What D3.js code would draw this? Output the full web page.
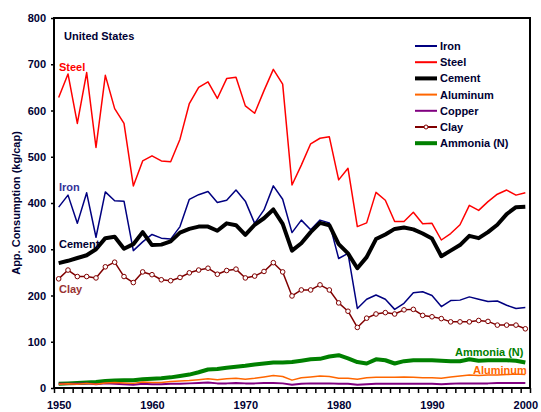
<!DOCTYPE html>
<html><head><meta charset="utf-8">
<script src="https://cdn.jsdelivr.net/npm/d3@7/dist/d3.min.js"></script>
<style>
body{margin:0;background:#fff;}
text{font-family:"Liberation Sans",Arial,sans-serif;font-weight:bold;}
</style></head>
<body>
<svg id="c" width="541" height="412"></svg>
<script>
const years = d3.range(1950, 2001);
const iron = [391,417,356,422,326,424,405,404,297,316,332,324,322,349,408,418,425,401,406,428,404,356,385,437,408,336,363,342,363,357,280,291,172,192,201,192,170,183,206,208,200,176,189,190,197,192,187,188,179,172,174];
const steel = [628,679,572,682,520,676,604,572,437,491,502,491,489,538,615,650,662,626,669,672,610,594,643,689,657,439,482,528,540,543,450,475,349,357,423,406,360,360,380,355,356,320,334,353,395,384,403,419,428,417,422];
const cement = [270,275,281,287,300,324,327,301,311,337,309,310,317,336,344,349,349,340,356,352,331,353,367,386,355,297,313,337,357,352,311,291,259,283,322,332,344,347,343,334,323,285,297,309,329,324,337,353,376,391,392];
const aluminum = [8,9,8,10,8,11,12,11,10,13,12,12,14,15,16,18,20,18,20,21,19,21,24,27,25,17,22,24,26,25,21,21,19,22,23,23,23,24,23,22,22,21,24,26,28,27,28,28,29,30,29];
const copper = [9,9,9,10,8,10,9,8,7,9,8,8,9,9,10,11,12,10,10,11,10,10,11,11,10,7,9,10,10,10,9,9,7,8,9,9,9,9,9,9,9,8,9,10,10,10,10,11,11,11,11];
const clay = [236,255,241,241,238,262,272,241,228,251,245,234,232,239,249,255,259,246,254,257,238,242,252,271,251,199,212,212,223,212,184,166,131,151,160,163,160,169,170,157,154,150,143,143,143,146,144,136,136,136,128];
const ammonia = [9,10,11,12,13,15,16,16.5,17,19,20,21,23,26,29,34,40,41,44,46,48,51,53,55,55,56,59,62,63,68,71,64,56,53,62,60,53,58,60,60,60,59,58,58,62,59,60,60,60,59,55];
const yTicks = [0,100,200,300,400,500,600,700,800];
const xLabels = [1950,1960,1970,1980,1990,2000];

const series = [
  {name:"Iron", values:iron, color:"#000080", width:1.5},
  {name:"Steel", values:steel, color:"#FF0000", width:1.5},
  {name:"Cement", values:cement, color:"#000000", width:4},
  {name:"Aluminum", values:aluminum, color:"#FF6600", width:1.5},
  {name:"Copper", values:copper, color:"#800080", width:2},
  {name:"Clay", values:clay, color:"#800000", width:1.5, marker:true},
  {name:"Ammonia (N)", values:ammonia, color:"#008000", width:4}
];

const L=54,R=530,T=18,B=388;
const svg = d3.select("#c");
const x = d3.scaleLinear().domain([1949.5,2000.5]).range([L,R]);
const y = d3.scaleLinear().domain([0,800]).range([B,T]);

// y axis
const yAx = svg.append("g").attr("transform",`translate(${L},0)`)
  .call(d3.axisLeft(y).tickValues(yTicks).tickSize(3).tickPadding(5));
yAx.select(".domain").remove();
yAx.selectAll("text").attr("font-size",11).attr("fill","#000033").style("font-family","Liberation Sans, Arial").style("font-weight","bold");
yAx.selectAll("line").attr("stroke","#000").attr("stroke-width",1.5);

// x ticks (year boundaries)
const xt = svg.append("g").attr("transform",`translate(0,${B})`)
  .call(d3.axisBottom(x).tickValues(d3.range(1949.5,2001,1)).tickSize(5).tickFormat(""));
xt.select(".domain").remove();
xt.selectAll("line").attr("stroke","#000").attr("stroke-width",1.5);
const xl = svg.append("g").attr("transform",`translate(0,${B})`)
  .call(d3.axisBottom(x).tickValues(xLabels).tickSize(0).tickPadding(13).tickFormat(d3.format("d")));
xl.select(".domain").remove();
xl.selectAll("text").attr("font-size",11).attr("fill","#000033").style("font-family","Liberation Sans, Arial").style("font-weight","bold");

// frame
svg.append("rect").attr("x",L).attr("y",T).attr("width",R-L).attr("height",B-T)
  .attr("fill","none").attr("stroke","#000").attr("stroke-width",2);

const line = d3.line().x((d,i)=>x(years[i])).y(d=>y(d));
const order = ["Ammonia (N)","Copper","Aluminum","Clay","Iron","Steel","Cement"];
order.forEach(n=>{
  const s = series.find(z=>z.name===n);
  svg.append("path").attr("d",line(s.values)).attr("fill","none")
    .attr("stroke",s.color).attr("stroke-width",s.width).attr("stroke-linejoin","round");
  if(s.marker){
    svg.selectAll(null).data(s.values).enter().append("circle")
      .attr("cx",(d,i)=>x(years[i])).attr("cy",d=>y(d)).attr("r",2.3)
      .attr("fill","#fff").attr("stroke",s.color).attr("stroke-width",1);
  }
});

// legend
const lg = svg.append("g");
series.forEach((s,i)=>{
  const yy = 46 + i*16.2;
  lg.append("line").attr("x1",415).attr("x2",437).attr("y1",yy).attr("y2",yy)
    .attr("stroke",s.color).attr("stroke-width",s.width===1.5?2:s.width);
  if(s.marker) lg.append("circle").attr("cx",426).attr("cy",yy).attr("r",2).attr("fill","#fff").attr("stroke",s.color).attr("stroke-width",1);
  lg.append("text").attr("x",440).attr("y",yy+4).attr("font-size",11).attr("fill","#000033").text(s.name);
});

// annotations
const ann = [
  {t:"United States",x:64,y:40,c:"#000033"},
  {t:"Steel",x:59,y:71,c:"#FF0000"},
  {t:"Iron",x:59,y:191,c:"#333399"},
  {t:"Cement",x:59,y:248,c:"#000033"},
  {t:"Clay",x:59,y:293,c:"#993333"},
  {t:"Ammonia (N)",x:455,y:356,c:"#008000"},
  {t:"Aluminum",x:473,y:374,c:"#FF6600"}
];
ann.forEach(a=>svg.append("text").attr("x",a.x).attr("y",a.y).attr("font-size",11).attr("fill",a.c).text(a.t));

svg.append("text").attr("transform","translate(20,203) rotate(-90)").attr("text-anchor","middle")
  .attr("font-size",11).attr("fill","#000033").text("App. Consumption (kg/cap)");
</script>
</body></html>
